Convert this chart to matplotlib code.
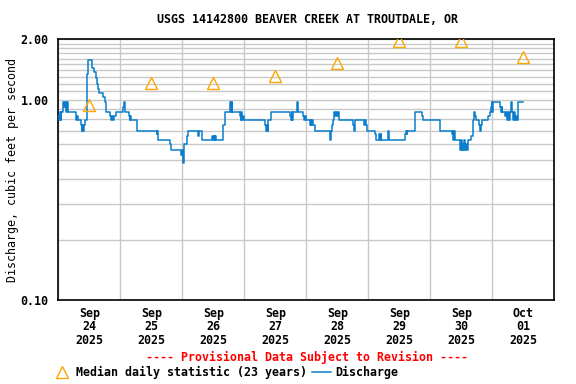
import numpy as np
import matplotlib
matplotlib.use("Agg")
import matplotlib.pyplot as plt
import matplotlib.dates as mdates
from matplotlib.lines import Line2D
from datetime import datetime, timedelta

# 15-minute discharge, stored as change points (hours after Sep 24 00:00, cfs)
q_hours = [0.0, 0.3, 0.6, 0.9, 1.2, 1.9, 2.3, 2.6, 3.0, 3.3, 3.6, 3.9,
           6.7, 7.0, 7.3, 7.7, 8.8, 9.0, 9.3, 9.6, 9.9, 10.3,
           11.2, 11.6, 13.2, 13.9, 14.5, 15.0, 15.5, 15.9, 17.4, 18.1, 18.3,
           20.0, 20.4, 20.8, 21.2, 21.6, 22.2, 25.2, 25.4, 25.8,
           27.4, 27.7, 27.9, 28.1, 30.6, 38.1, 38.3, 38.5, 43.2, 43.5,
           47.6, 47.9, 48.2, 48.4, 48.6, 49.7, 50.3,
           54.2, 54.6, 55.6, 59.6, 59.9, 60.2, 60.5, 60.8, 61.1,
           63.9, 64.5, 64.7, 66.5, 66.8, 67.1, 67.4,
           70.3, 70.6, 70.9, 71.2, 71.5, 71.9,
           80.0, 80.3, 80.7, 81.0, 81.3, 82.2,
           89.7, 90.0, 90.3, 90.6, 91.0, 92.5, 92.7, 92.9,
           94.8, 95.1, 95.4, 95.9,
           97.4, 97.7, 98.0, 98.3, 98.7, 99.4,
           105.2, 105.4, 106.0, 106.5, 106.8, 107.1, 107.4, 107.8, 108.2, 108.6,
           114.2, 114.5, 114.8, 118.5, 118.8, 119.1, 119.4,
           122.6, 122.9, 124.2, 124.5, 124.8, 125.1, 127.5, 128.0,
           134.2, 134.5, 134.8, 135.1, 138.1, 140.7, 141.0,
           147.7, 152.3, 152.6, 152.9, 153.2, 153.6,
           155.5, 155.8, 156.1, 156.4, 156.8, 157.2, 157.5, 157.9, 158.3, 158.7,
           159.6, 160.4, 160.6, 160.9, 161.4, 161.7,
           163.0, 163.3, 163.6, 163.9, 166.5, 167.0,
           167.5, 167.8, 168.0, 168.2,
           171.0, 171.3, 171.6, 171.9, 172.8, 173.3, 173.8, 174.2, 174.5, 174.8,
           175.2, 175.6, 175.9, 176.3, 176.7, 177.1, 177.5, 178.1, 179.8]
q_cfs = [0.83, 0.79, 0.87, 0.79, 0.87, 0.97, 0.92, 0.97, 0.87, 0.97, 0.92, 0.87,
         0.83, 0.79, 0.83, 0.79, 0.75, 0.70, 0.75, 0.70, 0.75, 0.79,
         1.34, 1.57, 1.44, 1.38, 1.28, 1.19, 1.13, 1.08, 1.03, 0.97, 0.87,
         0.83, 0.79, 0.83, 0.79, 0.83, 0.87, 0.92, 0.97, 0.87,
         0.83, 0.79, 0.83, 0.79, 0.70, 0.67, 0.70, 0.63, 0.60, 0.56,
         0.53, 0.56, 0.53, 0.48, 0.60, 0.66, 0.70,
         0.66, 0.70, 0.63, 0.66, 0.63, 0.66, 0.63, 0.66, 0.63,
         0.75, 0.83, 0.87, 0.97, 0.87, 0.97, 0.87,
         0.83, 0.79, 0.87, 0.79, 0.83, 0.79,
         0.75, 0.70, 0.75, 0.70, 0.79, 0.87,
         0.83, 0.79, 0.87, 0.79, 0.87, 0.97, 0.92, 0.87,
         0.83, 0.79, 0.83, 0.79,
         0.75, 0.79, 0.75, 0.79, 0.75, 0.70,
         0.63, 0.70, 0.75, 0.79, 0.87, 0.83, 0.87, 0.83, 0.87, 0.79,
         0.75, 0.70, 0.79, 0.75, 0.79, 0.75, 0.70,
         0.67, 0.63, 0.67, 0.63, 0.67, 0.63, 0.70, 0.63,
         0.67, 0.70, 0.67, 0.70, 0.87, 0.83, 0.79,
         0.70, 0.67, 0.70, 0.63, 0.70, 0.63,
         0.56, 0.63, 0.56, 0.60, 0.56, 0.63, 0.56, 0.60, 0.56, 0.63,
         0.66, 0.75, 0.79, 0.87, 0.83, 0.79,
         0.75, 0.70, 0.75, 0.79, 0.83, 0.87,
         0.92, 0.97, 0.87, 0.97,
         0.92, 0.87, 0.92, 0.87, 0.83, 0.87, 0.79, 0.87, 0.79, 0.87,
         0.97, 0.87, 0.79, 0.87, 0.79, 0.83, 0.79, 0.97, 0.97]

# median daily statistic, plotted at noon
median_days = ["2025-09-24", "2025-09-25", "2025-09-26", "2025-09-27",
               "2025-09-28", "2025-09-29", "2025-09-30", "2025-10-01"]
median_cfs = [0.94, 1.21, 1.21, 1.31, 1.53, 1.95, 1.95, 1.64]

start = datetime(2025, 9, 24)
q_time = [start + timedelta(hours=h) for h in q_hours]
med_time = [datetime.strptime(d, "%Y-%m-%d") + timedelta(hours=12) for d in median_days]

plt.rcParams['font.family'] = ['DejaVu Sans Mono']
plt.rcParams['font.weight'] = 'bold'
fs = 8.4
blue = '#0a7dcc'
orange = '#ffa500'

fig = plt.figure(figsize=(5.76, 3.84), dpi=100)
ax = fig.add_axes([0.1012, 0.2188, 0.8611, 0.6789])

ax.plot(q_time, q_cfs, color=blue, lw=1.1, drawstyle='steps-post', zorder=3)
ax.plot(med_time, median_cfs, ls='none', marker='^', ms=8, mfc='none',
        mec=orange, mew=1.0, zorder=4)

ax.set_yscale('log')
ax.set_ylim(0.1, 2.0)
ax.set_xlim(start, start + timedelta(days=8))

ax.yaxis.set_major_locator(matplotlib.ticker.FixedLocator([0.1, 1.0, 2.0]))
ax.yaxis.set_major_formatter(matplotlib.ticker.FixedFormatter(["0.10", "1.00", "2.00"]))
ax.yaxis.set_minor_locator(matplotlib.ticker.FixedLocator(
    [v / 10 for v in range(2, 20)]))
ax.yaxis.set_minor_formatter(matplotlib.ticker.NullFormatter())

ax.xaxis.set_major_locator(mdates.HourLocator(byhour=[12]))
ax.xaxis.set_major_formatter(mdates.DateFormatter("%b\n%d\n%Y"))
ax.xaxis.set_minor_locator(mdates.HourLocator(byhour=[0]))

ax.grid(True, which='minor', axis='both', color='#c8c8c8', lw=1.0)
ax.grid(True, which='major', axis='y', color='#c8c8c8', lw=1.0)
ax.grid(False, which='major', axis='x')
ax.tick_params(axis='both', which='both', length=0)
ax.tick_params(axis='x', which='major', pad=5, labelsize=fs)
ax.tick_params(axis='y', which='major', pad=7, labelsize=fs)
for lab in ax.get_xticklabels():
    lab.set_linespacing(1.05)
for sp in ax.spines.values():
    sp.set_color('black')
    sp.set_linewidth(1.2)

ax.set_ylabel("Discharge, cubic feet per second", fontsize=fs)
ax.yaxis.set_label_coords(-0.079, 0.5)
fig.text(0.5335, 0.948, "USGS 14142800 BEAVER CREEK AT TROUTDALE, OR",
         ha='center', va='center', fontsize=fs)
fig.text(0.5335, 0.068, "---- Provisional Data Subject to Revision ----",
         ha='center', va='center', fontsize=fs, color='red')

handles = [Line2D([], [], ls='none', marker='^', ms=8, mfc='none', mec=orange, mew=1.0),
           Line2D([], [], color=blue, lw=1.1)]
fig.legend(handles, ["Median daily statistic (23 years)", "Discharge"],
           loc='center', bbox_to_anchor=(0.392, 0.031), ncol=2, frameon=False,
           fontsize=fs, handlelength=1.6, handletextpad=0.4, columnspacing=0.4,
           borderpad=0, borderaxespad=0)

fig.savefig("out.png", dpi=100)
